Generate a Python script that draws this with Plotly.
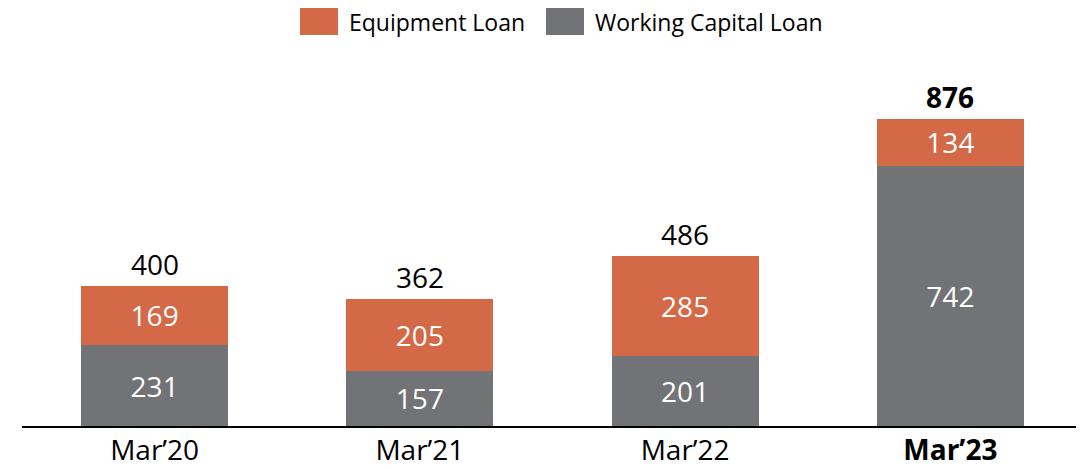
import plotly.graph_objects as go

categories = ["Mar’20", "Mar’21", "Mar’22", "Mar’23"]
tick_labels = ["Mar’20", "Mar’21", "Mar’22", "<b>Mar’23</b>"]
working_capital = [231, 157, 201, 742]
equipment = [169, 205, 285, 134]
totals = [400, 362, 486, 876]
total_labels = ["400", "362", "486", "<b>876</b>"]

ORANGE = "#D46947"
GRAY = "#727377"
FONT = "Open Sans"

# page body has an 8px margin; compensate so the chart lands where it should
OFF = 8
W, H = 1084 - OFF, 469 - OFF
L, R, T, B = 22 - OFF, 1, 80 - OFF, 43
PW, PH = W - L - R, H - T - B


def px(xw):
    return (xw - OFF - L) / PW


def py(yw):
    return (H - B - (yw - OFF)) / PH


fig = go.Figure()
fig.add_trace(go.Bar(
    x=categories, y=working_capital, name="Working Capital Loan",
    marker=dict(color=GRAY, line=dict(width=0)),
    text=[str(v) for v in working_capital], textposition="inside",
    insidetextanchor="middle", textangle=0,
    textfont=dict(color="white", size=28, family=FONT),
))
fig.add_trace(go.Bar(
    x=categories, y=equipment, name="Equipment Loan",
    marker=dict(color=ORANGE, line=dict(width=0)),
    text=[str(v) for v in equipment], textposition="inside",
    insidetextanchor="middle", textangle=0,
    textfont=dict(color="white", size=28, family=FONT),
))

for c, t, lab in zip(categories, totals, total_labels):
    fig.add_annotation(x=c, y=t, text=lab, showarrow=False, yanchor="bottom",
                       yshift=1, font=dict(size=28, color="black", family=FONT))

# Legend drawn manually (larger swatches as in reference)
legend_items = [("Equipment Loan", ORANGE, 300), ("Working Capital Loan", GRAY, 546)]
for name, col, x0 in legend_items:
    fig.add_shape(type="rect", xref="paper", yref="paper",
                  x0=px(x0), x1=px(x0 + 38), y0=py(35), y1=py(8),
                  fillcolor=col, line=dict(width=0), layer="above")
    fig.add_annotation(xref="paper", yref="paper",
                       x=px(x0 + 47), y=py(21.5),
                       text=name, showarrow=False, xanchor="left", yanchor="middle",
                       font=dict(size=23, color="black", family=FONT))

fig.update_layout(
    barmode="stack",
    bargap=0.445,
    width=W, height=H,
    margin=dict(l=L, r=R, t=T, b=B, autoexpand=False),
    plot_bgcolor="white", paper_bgcolor="white",
    showlegend=False,
    font=dict(family=FONT, color="black"),
    uniformtext=dict(minsize=28, mode="show"),
)
fig.update_xaxes(
    tickvals=categories, ticktext=tick_labels,
    showline=True, linecolor="black", linewidth=2,
    ticks="", tickfont=dict(size=28, color="black", family=FONT),
    ticklabelstandoff=-2,
    showgrid=False, range=[-0.5, 3.5], automargin=False,
)
fig.update_yaxes(visible=False, range=[0, 987], showgrid=False)

fig.write_html("out.html")
